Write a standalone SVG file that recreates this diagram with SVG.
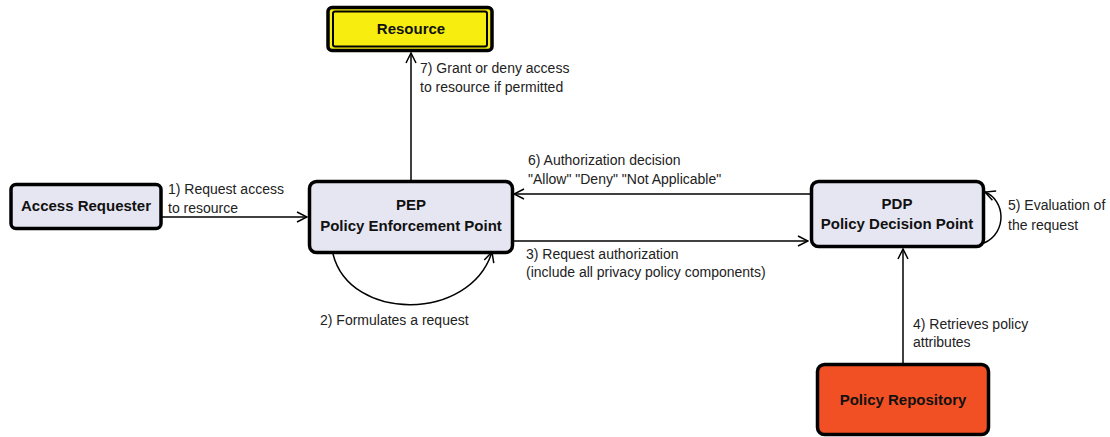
<svg xmlns="http://www.w3.org/2000/svg" width="1110" height="437" viewBox="0 0 1110 437">
<style>
.node rect{stroke:#000;stroke-width:3.5}
.nl{font-family:"Liberation Sans",Arial,sans-serif;font-size:15px;font-weight:bold;fill:#111;text-anchor:middle}
.lbl{font-family:"Liberation Sans",Arial,sans-serif;font-size:14px;fill:#222}
.edge{fill:none;stroke:#000;stroke-width:1.5}
</style>
<defs>
<marker id="arr" viewBox="0 0 12 12" refX="11" refY="6" markerWidth="12" markerHeight="12" markerUnits="userSpaceOnUse" orient="auto">
<path d="M1,1 L11,6 L1,11" fill="none" stroke="#000" stroke-width="1.5"/>
</marker>
</defs>
<rect width="1110" height="437" fill="#fff"/>
<g id="connectors">
<path class="edge" d="M162,217 L307,217" marker-end="url(#arr)"/>
<path class="edge" d="M411,181 L411,53" marker-end="url(#arr)"/>
<path class="edge" d="M811,194 L514,194" marker-end="url(#arr)"/>
<path class="edge" d="M512,241 L808,241" marker-end="url(#arr)"/>
<path class="edge" d="M903,364 L903,249" marker-end="url(#arr)"/>
<path class="edge" d="M333,254 C350,322 470,322 492,252" marker-end="url(#arr)"/>
<path class="edge" d="M984,243 C1008,232 1005,200 985,192" marker-end="url(#arr)"/>
</g>
<g id="resource" class="node">
<rect x="328" y="7.5" width="164" height="43" rx="4" fill="#f7ee10"/>
<rect x="333" y="11.5" width="154" height="35" rx="2" fill="#f7ee10" style="stroke-width:2"/>
<text class="nl" x="411" y="34">Resource</text>
</g>
<g id="access-requester" class="node">
<rect x="11" y="184.5" width="150" height="44" rx="5" fill="#e6e6f2"/>
<text class="nl" x="86" y="211">Access Requester</text>
</g>
<g id="pep" class="node">
<rect x="309.5" y="181.5" width="203" height="71" rx="7" fill="#e6e6f2"/>
<text class="nl" x="411" y="210">PEP</text>
<text class="nl" x="411" y="231">Policy Enforcement Point</text>
</g>
<g id="pdp" class="node">
<rect x="811.5" y="181.5" width="172" height="65" rx="7" fill="#e6e6f2"/>
<text class="nl" x="897" y="209">PDP</text>
<text class="nl" x="897" y="229">Policy Decision Point</text>
</g>
<g id="policy-repository" class="node">
<rect x="817.5" y="364.5" width="171" height="70" rx="7" fill="#f05023"/>
<text class="nl" x="903" y="405">Policy Repository</text>
</g>
<g id="labels">
<text class="lbl" x="168" y="194">1) Request access</text>
<text class="lbl" x="168" y="213">to resource</text>
<text class="lbl" x="420" y="73">7) Grant or deny access</text>
<text class="lbl" x="420" y="92">to resource if permitted</text>
<text class="lbl" x="528" y="165">6) Authorization decision</text>
<text class="lbl" x="528" y="184">"Allow" "Deny" "Not Applicable"</text>
<text class="lbl" x="526" y="259">3) Request authorization</text>
<text class="lbl" x="526" y="277">(include all privacy policy components)</text>
<text class="lbl" x="320" y="325">2) Formulates a request</text>
<text class="lbl" x="1008" y="210">5) Evaluation of</text>
<text class="lbl" x="1008" y="230">the request</text>
<text class="lbl" x="913" y="329">4) Retrieves policy</text>
<text class="lbl" x="913" y="347">attributes</text>
</g>
</svg>
